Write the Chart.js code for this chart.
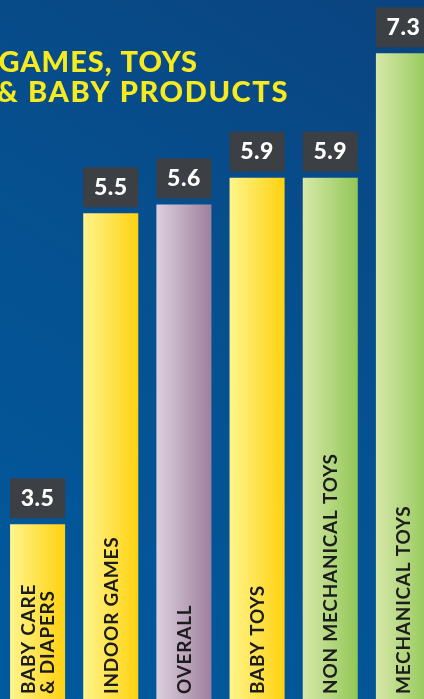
<!DOCTYPE html>
<html>
<head>
<meta charset="utf-8">
<script src="https://cdn.jsdelivr.net/npm/chart.js@4"></script>
<style>
  html, body { margin: 0; padding: 0; overflow: hidden; background: #04518f; }
  #wrap { width: 440px; height: 702px; }
</style>
</head>
<body>
<div id="wrap"><canvas id="chart" width="440" height="702"></canvas></div>
<script>
// categories (bottom labels, drawn inside the bars)
const categories = [
    ['BABY CARE', '& DIAPERS'],
    'INDOOR GAMES',
    'OVERALL',
    'BABY TOYS',
    'NON MECHANICAL TOYS',
    'MECHANICAL TOYS'
];
// printed value on each box
const scores = [3.5, 5.5, 5.6, 5.9, 5.9, 7.3];
// bar lengths as drawn in the picture (first bar is drawn shorter than its score)
const barLengths = [2.0, 5.5, 5.6, 5.9, 5.9, 7.3];
// colour family for each bar
const barKinds = ['yellow', 'yellow', 'purple', 'yellow', 'green', 'green'];
const titleLines = ['GAMES, TOYS', '& BABY PRODUCTS'];

const palette = {
    yellow: ['#fff58c', '#ffd10f'],
    purple: ['#ddd0de', '#9d7f9e'],
    green:  ['#d7e8a9', '#92c757']
};

function barFill(context) {
    const chart = context.chart;
    const area = chart.chartArea;
    const kind = palette[barKinds[context.dataIndex]];
    if (!area) return kind[1];
    const step = area.width / categories.length;
    const w = step * 0.752;
    const cx = chart.scales.x.getPixelForValue(context.dataIndex);
    const g = chart.ctx.createLinearGradient(cx - w / 2, 0, cx + w / 2, 0);
    g.addColorStop(0, kind[0]);
    g.addColorStop(1, kind[1]);
    return g;
}

// --- fon va sarlavha ---
const backdrop = {
    id: 'backdrop',
    beforeDraw(chart) {
        const ctx = chart.ctx;
        const g = ctx.createLinearGradient(440, 0, 0, 702);
        g.addColorStop(0, '#0a437f');
        g.addColorStop(0.45, '#06508f');
        g.addColorStop(1, '#005a9e');
        ctx.save();
        ctx.fillStyle = g;
        ctx.fillRect(0, 0, chart.width, chart.height);
        ctx.fillStyle = '#f7ea1f';
        ctx.font = '900 29px Lato';
        ctx.textAlign = 'right';
        ctx.textBaseline = 'alphabetic';
        ctx.letterSpacing = '1px';
        ctx.fillText(titleLines[0], 198, 72);
        ctx.letterSpacing = '1.6px';
        ctx.fillText(titleLines[1], 289, 102);
        ctx.restore();
    }
};

// --- qiymat qutilari va ichki yozuvlar ---
const barText = {
    id: 'barText',
    afterDatasetsDraw(chart) {
        const ctx = chart.ctx;
        const meta = chart.getDatasetMeta(0);
        ctx.save();
        meta.data.forEach((bar, i) => {
            const left = bar.x - bar.width / 2;
            // value box
            ctx.fillStyle = '#3c3f43';
            ctx.fillRect(left, bar.y - 46, bar.width, 40);
            ctx.fillStyle = '#ffffff';
            ctx.font = '900 23px Lato';
            ctx.letterSpacing = '0.5px';
            ctx.textAlign = 'center';
            ctx.textBaseline = 'middle';
            ctx.fillText(scores[i].toFixed(1), bar.x, bar.y - 26);

            // rotated category label
            const lines = Array.isArray(categories[i]) ? categories[i] : [categories[i]];
            ctx.fillStyle = '#1c1c1c';
            ctx.font = '700 19px Lato';
            ctx.letterSpacing = '0.75px';
            ctx.textAlign = 'left';
            ctx.textBaseline = 'alphabetic';
            lines.forEach((line, k) => {
                const off = (k - (lines.length - 1) / 2) * 19;
                ctx.save();
                ctx.translate(bar.x + 7 + off, 694);
                ctx.rotate(-Math.PI / 2);
                ctx.fillText(line, 0, 0);
                ctx.restore();
            });
        });
        ctx.restore();
    }
};

new Chart(document.getElementById('chart'), {
    type: 'bar',
    data: {
        labels: categories,
        datasets: [{
            data: barLengths,
            backgroundColor: barFill,
            borderWidth: 0,
            barPercentage: 0.752,
            categoryPercentage: 1
        }]
    },
    options: {
        responsive: false,
        animation: false,
        layout: { padding: { left: 1, right: 0, top: 0, bottom: 0 } },
        plugins: { legend: { display: false }, tooltip: { enabled: false } },
        scales: {
            x: { display: false },
            y: { display: false, min: 0, max: 7.9 }
        }
    },
    plugins: [backdrop, barText]
});
</script>
</body>
</html>
